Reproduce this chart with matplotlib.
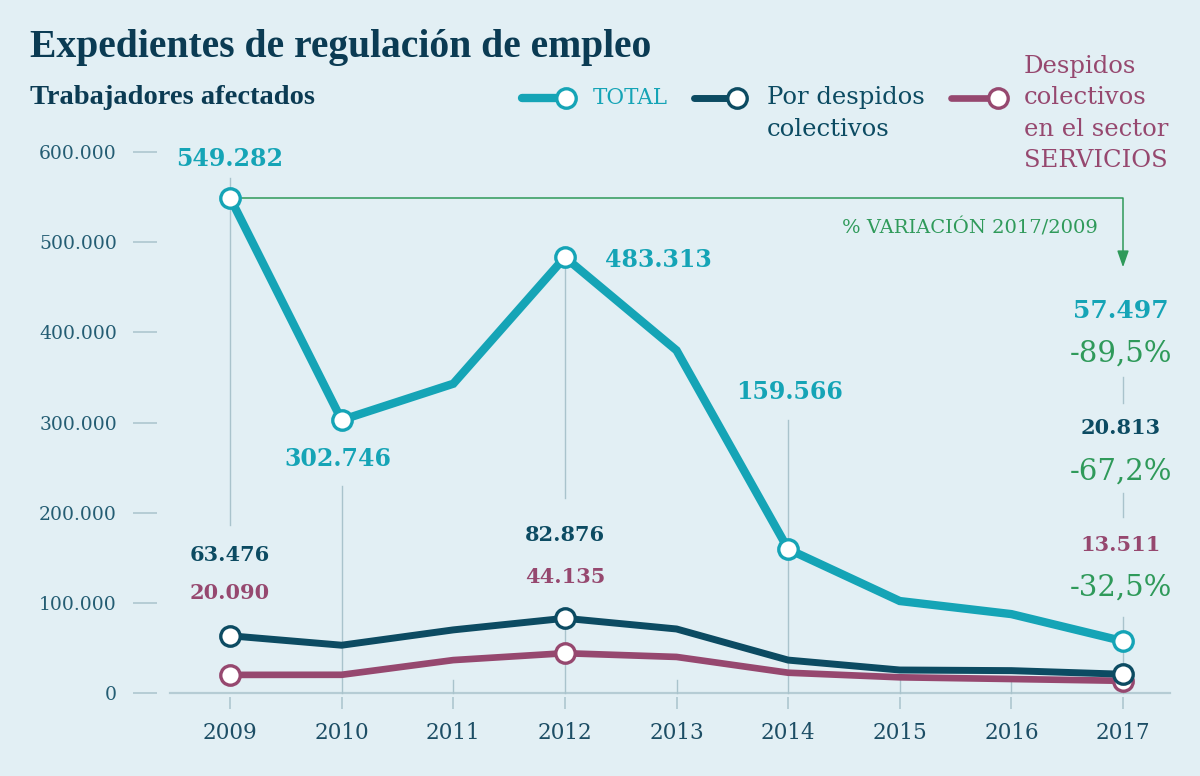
import numpy as np
import matplotlib
matplotlib.use("Agg")
import matplotlib.pyplot as plt
from matplotlib.lines import Line2D

# Data
years = [2009, 2010, 2011, 2012, 2013, 2014, 2015, 2016, 2017]
total = [549282, 302746, 343000, 483313, 380000, 159566, 102000, 87500, 57497]
colectivos = [63476, 53000, 70000, 82876, 71000, 36500, 25500, 24800, 20813]
servicios = [20090, 20200, 36500, 44135, 40000, 22500, 17400, 15500, 13511]
yticks = [0, 100000, 200000, 300000, 400000, 500000, 600000]
variacion = ['-89,5%', '-67,2%', '-32,5%']

# Style
BG = '#e2eff4'
TEAL = '#15a4b6'
DARK = '#0c4b62'
PURPLE = '#96486f'
GREEN = '#2f9a5a'
NAVY = '#0b3b53'
GUIDE = '#a9c3cc'
TICKTXT = '#245d73'
SERIF = 'DejaVu Serif'
W, H = 1200, 776


def fmt(v):
    return f"{v:,}".replace(',', '.')


def fx(px):
    return px / W


def fy(py):
    return 1 - py / H


fig = plt.figure(figsize=(12, 7.76), dpi=100, facecolor=BG)
ax = fig.add_axes([fx(170), fy(693), 1000 / W, (693 - 152) / H])
ax.set_facecolor(BG)
ax.set_xlim(2008.462, 2017.421)
ax.set_ylim(0, 600000)

for s in ax.spines.values():
    s.set_visible(False)
ax.spines['left'].set_position(('outward', 9.4))
ax.spines['bottom'].set_position(('outward', 2.9))

ax.set_yticks(yticks)
ax.set_yticklabels([fmt(v) if v else '0' for v in yticks])
ax.set_xticks(years)
ax.set_xticklabels([str(y) for y in years])
ax.tick_params(axis='y', length=17.3, width=1.1, color=GUIDE, pad=11.5,
               labelsize=13.5, labelcolor=TICKTXT)
ax.tick_params(axis='x', length=8.6, width=1.1, color=GUIDE, pad=9.4,
               labelsize=15.5, labelcolor='#1d4e65')
for lab in ax.get_xticklabels() + ax.get_yticklabels():
    lab.set_family(SERIF)

ax.axhline(0, color='#b5ccd4', lw=1.6, zorder=1, clip_on=False)

# vertical guide lines (year, from, to)
guides = [(2009, 186000, 571000), (2010, 0, 230000), (2011, 0, 14000),
          (2012, 216000, 483313), (2012, 0, 82876), (2013, 0, 14000),
          (2014, 0, 303000), (2015, 0, 14000), (2016, 0, 14000),
          (2017, 322000, 350000), (2017, 195000, 222000), (2017, 0, 84000)]
for x, a, b in guides:
    ax.plot([x, x], [a, b], color=GUIDE, lw=1.0, zorder=1, clip_on=False)

# green variation arrow
ax.plot([2009, 2017, 2017], [total[0], total[0], 480000], color=GREEN,
        lw=1.1, zorder=2, clip_on=False)
ax.annotate('', xy=(2017, 469000), xytext=(2017, 485000),
            arrowprops=dict(arrowstyle='-|>,head_length=1.0,head_width=0.35',
                            color=GREEN, lw=1.1), annotation_clip=False)
ax.text(2016.776, 515700, '% VARIACIÓN 2017/2009', color=GREEN, family=SERIF,
        fontsize=14, ha='right', va='center')

series = [
    (servicios, PURPLE, 4.8, [0, 3, 8], 3),
    (colectivos, DARK, 5.0, [0, 3, 8], 4),
    (total, TEAL, 6.0, [0, 1, 3, 5, 8], 5),
]
for vals, col, lw, marks, z in series:
    ax.plot(years, vals, color=col, lw=lw, solid_capstyle='butt',
            solid_joinstyle='miter', zorder=z, clip_on=False)
    ax.plot([years[i] for i in marks], [vals[i] for i in marks], 'o',
            ms=14, mfc='white', mec=col, mew=2.4, zorder=z + 0.5,
            clip_on=False)

# value labels: (series, index, dx, dy, size, ha)
labels = [
    (total, 0, 0, 39, 17, 'center', TEAL),
    (total, 1, -4, -39, 17, 'center', TEAL),
    (total, 3, 40, -3, 17, 'left', TEAL),
    (total, 5, 1, 157, 17, 'center', TEAL),
    (total, 8, -2, 330, 18, 'center', TEAL),
    (colectivos, 0, 0, 81, 15, 'center', DARK),
    (colectivos, 3, 0, 83, 15, 'center', DARK),
    (colectivos, 8, -2, 246, 15, 'center', DARK),
    (servicios, 0, 0, 82, 15, 'center', PURPLE),
    (servicios, 3, 0, 76, 15, 'center', PURPLE),
    (servicios, 8, -2, 136, 15, 'center', PURPLE),
]
for vals, i, dx, dy, size, ha, col in labels:
    ax.annotate(fmt(vals[i]), (years[i], vals[i]), xytext=(dx, dy),
                textcoords='offset pixels', ha=ha, va='center',
                fontsize=size, fontweight='bold', color=col, family=SERIF,
                annotation_clip=False)

pct_dy = [288, 203, 93]
for vals, txt, dy in zip([total, colectivos, servicios], variacion, pct_dy):
    ax.annotate(txt, (years[-1], vals[-1]), xytext=(-2, dy),
                textcoords='offset pixels', ha='center', va='center',
                fontsize=21, color=GREEN, family=SERIF,
                annotation_clip=False)

# titles
fig.text(fx(30), fy(47), 'Expedientes de regulación de empleo',
         family='Liberation Serif', fontweight='bold', fontsize=28.5,
         color=NAVY, va='center', ha='left')
fig.text(fx(30), fy(98), 'Trabajadores afectados',
         family='Liberation Serif', fontweight='bold', fontsize=20.5,
         color=NAVY, va='center', ha='left')

# legend
legend = [
    (522, 566, TEAL, 6.0, 593, 'TOTAL', 98, 15.5),
    (694, 737, DARK, 5.0, 767, 'Por despidos\ncolectivos', 113.5, 17.5),
    (951, 998, PURPLE, 4.8, 1024,
     'Despidos\ncolectivos\nen el sector\nSERVICIOS', 113.5, 17.5),
]
for x0, x1, col, lw, tx, txt, ty, size in legend:
    fig.add_artist(Line2D([fx(x0), fx(x1)], [fy(98), fy(98)], color=col,
                          lw=lw, solid_capstyle='round', marker='o',
                          markevery=[1], ms=14, mfc='white', mec=col,
                          mew=2.4))
    fig.text(fx(tx), fy(ty), txt, color=col, family=SERIF, fontsize=size,
             ha='left', va='center', linespacing=1.46)

fig.savefig('out.png', dpi=100, facecolor=BG)
